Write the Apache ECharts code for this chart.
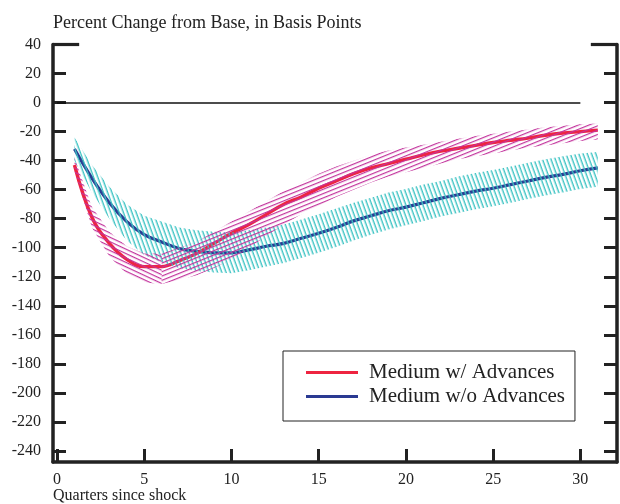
<!DOCTYPE html>
<html><head><meta charset="utf-8">
<script src="https://cdn.jsdelivr.net/npm/echarts@6/dist/echarts.min.js"></script>
<style>html,body{margin:0;padding:0;background:#fff}#c{width:620px;height:504px}</style>
</head><body><div id="c"></div>
<script>
const quarters = [1,2,3,4,5,6,7,8,9,10,11,12,13,14,15,16,17,18,19,20,21,22,23,24,25,26,27,28,29,30,31];
const withAdv   = [-43,-79,-97,-108,-113,-113,-109,-104,-97,-90,-84,-77,-70,-65,-59,-54,-49,-45,-42,-39,-36,-33.5,-31.5,-29.5,-27.5,-26,-24.5,-22.5,-21,-20,-19];
const withAdvHi = [-38,-72,-89,-99,-104,-104,-100,-96,-89,-82,-75,-68,-61,-55,-49,-44,-40,-36,-33,-31,-29,-27,-25,-23,-21.5,-20,-18.5,-17,-16,-15,-14.5];
const withAdvLo = [-47,-86,-106,-118,-124,-125,-122,-119,-114,-108,-100,-92,-84,-77,-71,-65,-60,-55,-51,-48,-45,-42,-39,-37,-35,-33,-31,-29.5,-28,-26.5,-25.5];
const withoutAdv   = [-32,-52,-69,-82,-91,-96,-100.5,-102.5,-103.5,-103.5,-101.5,-99,-97,-93.5,-90,-86,-81.5,-78,-74.5,-72,-69,-66,-63.5,-61,-59,-56.5,-54,-51.5,-49.5,-47,-45];
const withoutAdvHi = [-24,-43,-58,-70,-78,-82,-86,-88,-89,-89.5,-88,-86,-84,-80.5,-77,-73,-69,-65.5,-62,-59.5,-56.5,-54,-51,-48.5,-46.5,-44,-41.5,-39,-37,-35,-34];
const withoutAdvLo = [-40,-62,-80,-95,-105,-110,-114,-116,-117,-117.5,-115.5,-113,-110.5,-107,-103.5,-99.5,-95,-91,-87.5,-84.5,-81.5,-78.5,-76,-73.5,-71.5,-69,-66.5,-64,-62,-59.5,-58];
const xTicks = [0,5,10,15,20,25,30];
const yTicks = [-240,-220,-200,-180,-160,-140,-120,-100,-80,-60,-40,-20,0,20,40];
const zeroLineX = [0, 30];
const seriesNames = ['Medium w/ Advances', 'Medium w/o Advances'];
const xRange = [-0.23, 32.1];
const yRange = [-247.6, 40];

const FONT = 'Liberation Serif';
const pairs = (xs, ys) => xs.map((x, i) => [x, ys[i]]);

// horizontal stripe tile, rotated later through the pattern transform
function stripeTile(color, thick, period) {
  const c = document.createElement('canvas');
  c.width = 16; c.height = period;
  const g = c.getContext('2d');
  g.fillStyle = color;
  g.fillRect(0, 0, 16, thick);
  return c;
}

function bandSeries(name, hi, lo, from, to, tile, rot, z) {
  const xs = quarters.slice(from, to);
  return {
    name: name, type: 'custom', silent: true, z: z, clip: true,
    data: xs.map((x, i) => [x, hi[from + i], lo[from + i]]),
    encode: { x: 0, y: [1, 2] },
    renderItem: function (params, api) {
      if (params.dataIndex !== 0) return null;
      const pts = [];
      for (let i = 0; i < xs.length; i++) pts.push(api.coord([xs[i], hi[from + i]]));
      for (let i = xs.length - 1; i >= 0; i--) pts.push(api.coord([xs[i], lo[from + i]]));
      return {
        type: 'polygon',
        shape: { points: pts },
        style: { fill: { type: 'pattern', image: tile, repeat: 'repeat', rotation: rot }, stroke: null }
      };
    }
  };
}

const deg = Math.PI / 180;
const cyanTile = stripeTile('#3cc3c3', 1.4, 4.3);
const magTile = stripeTile('#c2329c', 1.2, 4.1);

const chart = echarts.init(document.getElementById('c'), null, { renderer: 'canvas' });
const option = {
  animation: false,
  backgroundColor: '#fff',
  textStyle: { fontFamily: FONT },
  title: [
    { text: 'Percent Change from Base, in Basis Points', left: 48, top: 9,
      textStyle: { fontFamily: FONT, fontSize: 18, fontWeight: 'normal', color: '#222' } },
    { text: 'Quarters since shock', left: 48, top: 483,
      textStyle: { fontFamily: FONT, fontSize: 16, fontWeight: 'normal', color: '#222' } }
  ],
  legend: {
    data: seriesNames, orient: 'vertical', left: 283, top: 351,
    borderColor: '#222', borderWidth: 1, backgroundColor: '#fff',
    padding: [11, 10, 14, 23], itemGap: 3, itemWidth: 52, itemHeight: 3, icon: 'rect',
    textStyle: { fontFamily: FONT, fontSize: 21, color: '#222', padding: [0, 0, 0, 6] }
  },
  grid: { left: 53, right: 3, top: 44.5, bottom: 42, containLabel: false },
  xAxis: {
    type: 'value', min: xRange[0], max: xRange[1],
    axisLine: { show: true, onZero: false, lineStyle: { color: '#222', width: 3.5 } },
    axisTick: { show: true, inside: true, length: 13, customValues: xTicks, lineStyle: { color: '#222', width: 3 } },
    axisLabel: { customValues: xTicks, fontFamily: FONT, fontSize: 16, color: '#222', margin: 10 },
    splitLine: { show: false }
  },
  yAxis: [
    { type: 'value', min: yRange[0], max: yRange[1], position: 'left',
      axisLine: { show: true, onZero: false, lineStyle: { color: '#222', width: 3.5 } },
      axisTick: { show: true, inside: true, length: 13, customValues: yTicks, lineStyle: { color: '#222', width: 3 } },
      axisLabel: { customValues: yTicks, fontFamily: FONT, fontSize: 16, color: '#222', margin: 12 },
      splitLine: { show: false } },
    { type: 'value', min: yRange[0], max: yRange[1], position: 'right',
      axisLine: { show: true, onZero: false, lineStyle: { color: '#222', width: 3.5 } },
      axisTick: { show: true, inside: true, length: 13, customValues: yTicks, lineStyle: { color: '#222', width: 3 } },
      axisLabel: { show: false },
      splitLine: { show: false } }
  ],
  series: [
    bandSeries('cyanBand', withoutAdvHi, withoutAdvLo, 0, 31, cyanTile, 70 * deg, 4),
    bandSeries('magBandA', withAdvHi, withAdvLo, 0, 6, magTile, 25 * deg, 5),
    bandSeries('magBandB', withAdvHi, withAdvLo, 5, 31, magTile, -22 * deg, 5),
    { name: seriesNames[1], type: 'line', data: pairs(quarters, withoutAdv), smooth: 0.4, symbol: 'none',
      color: '#2a3a92', lineStyle: { color: '#2a3a92', width: 3.2 }, z: 3,
      markLine: { silent: true, symbol: 'none', label: { show: false }, animation: false,
        lineStyle: { color: '#111', width: 1.6, type: 'solid' },
        data: [
          [{ coord: [zeroLineX[0], 0] }, { coord: [zeroLineX[1], 0] }],
          [{ coord: [xRange[0], yRange[1]], lineStyle: { width: 3.2, color: '#222' } }, { coord: [xRange[0] + 1.5, yRange[1]] }],
          [{ coord: [xRange[1] - 1.5, yRange[1]], lineStyle: { width: 3.2, color: '#222' } }, { coord: [xRange[1], yRange[1]] }]
        ] } },
    { name: seriesNames[0], type: 'line', data: pairs(quarters, withAdv), smooth: 0.4, symbol: 'none',
      color: '#ee2440', lineStyle: { color: '#ee2440', width: 3.4 }, z: 3 }
  ]
};
chart.setOption(option);
</script>
</body></html>
